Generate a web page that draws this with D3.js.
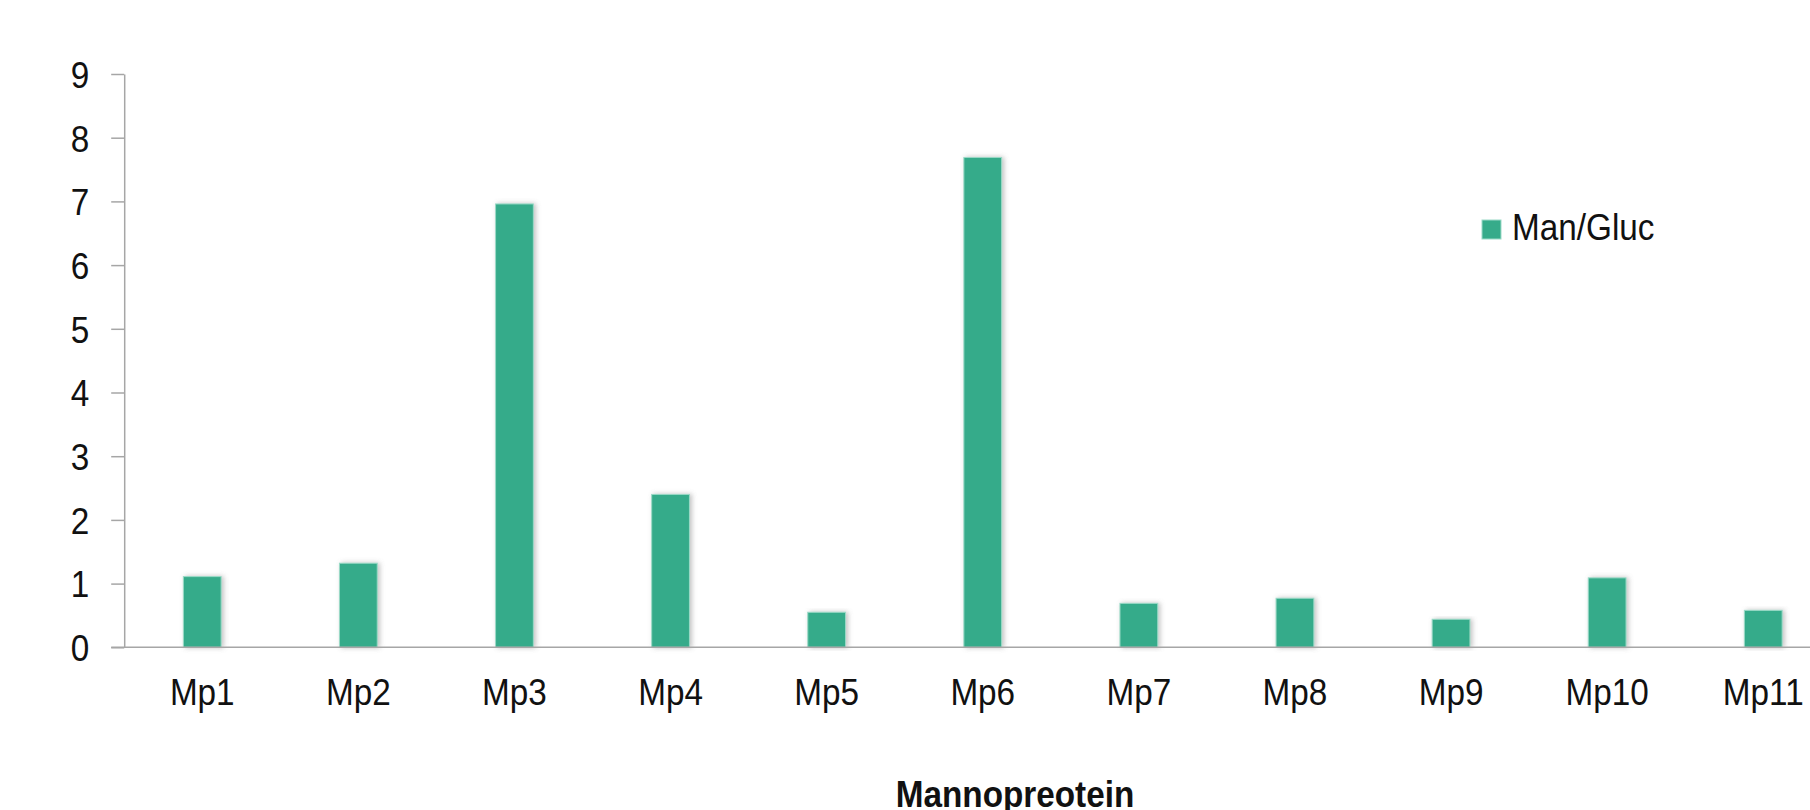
<!DOCTYPE html>
<html lang="en">
    <head>
        <meta charset="utf-8">
        <title>Man/Gluc by Mannopreotein</title>
        <script src="https://d3js.org/d3.v7.min.js"></script>
        <style type="text/css">
            body { margin: 0; background: white; }
            svg { display: block; overflow: hidden; }
            text {
                font-family: "Liberation Sans", Arial, sans-serif;
                font-size: 37px;
                fill: #111;
            }
            .title { font-weight: bold; }
        </style>
    </head>
    <body>
        <svg width="1810" height="810"></svg>
        <script type="text/javascript">

            const categories = ["Mp1", "Mp2", "Mp3", "Mp4", "Mp5", "Mp6", "Mp7", "Mp8", "Mp9", "Mp10", "Mp11"];
            const manGluc = [1.11, 1.32, 6.96, 2.40, 0.55, 7.69, 0.69, 0.77, 0.44, 1.09, 0.58];
            const yTicks = [0, 1, 2, 3, 4, 5, 6, 7, 8, 9];
            const seriesName = "Man/Gluc";
            const xTitle = "Mannopreotein";

            const svg = d3.select("svg");
            const w = 1810;
            const barColor = "#36ab8a";
            const sx = 0.9; // text is a bit narrow in the original

            // plot area (runs past the right edge, like the original)
            const left = 124.2, step = 156.1;
            const x = d3.scaleBand()
                        .domain(categories)
                        .range([left, left + step * categories.length])
                        .paddingInner(0.758)
                        .paddingOuter(0.379);
            const y = d3.scaleLinear().domain([0, 9]).range([647.3, 74]);

            const defs = svg.append("defs");
            defs.append("filter")
                .attr("id", "shadow")
                .attr("x", "-30%").attr("y", "-10%")
                .attr("width", "160%").attr("height", "120%")
                .append("feDropShadow")
                .attr("dx", 2).attr("dy", 0)
                .attr("stdDeviation", 2.5)
                .attr("flood-color", "#777")
                .attr("flood-opacity", 0.45);

            // bars
            svg.selectAll("rect.bar")
               .data(manGluc)
               .enter()
               .append("rect")
               .attr("class", "bar")
               .attr("x", (d, i) => x(categories[i]))
               .attr("y", d => y(d))
               .attr("width", x.bandwidth())
               .attr("height", d => y(0) - y(d))
               .style("fill", barColor)
               .style("stroke", "#9bdac7")
               .style("stroke-width", 1)
               .attr("filter", "url(#shadow)");

            // y axis
            const yAxis = svg.append("g")
                             .attr("transform", `translate(${left},0)`)
                             .call(d3.axisLeft(y).tickValues(yTicks).tickSize(13).tickSizeOuter(0).tickFormat(d3.format("d")));
            yAxis.select(".domain").attr("stroke", "#a6a6a6").attr("stroke-width", 1.5);
            yAxis.selectAll(".tick line").attr("stroke", "#a6a6a6").attr("stroke-width", 1.5);
            yAxis.selectAll(".tick text")
                 .attr("x", null)
                 .attr("dy", "0.36em")
                 .attr("font-size", null)
                 .attr("font-family", null)
                 .attr("fill", null)
                 .attr("transform", `translate(-35,0) scale(${sx},1)`);

            // x axis
            const xAxis = svg.append("g")
                             .attr("transform", `translate(0,${y(0)})`)
                             .call(d3.axisBottom(x).tickSize(0).tickSizeOuter(0));
            xAxis.select(".domain").remove();
            xAxis.append("line")
                 .attr("x1", left - 13).attr("x2", w)
                 .attr("stroke", "#a6a6a6").attr("stroke-width", 1.5);
            xAxis.selectAll(".tick text")
                 .attr("y", null)
                 .attr("dy", null)
                 .attr("font-size", null)
                 .attr("font-family", null)
                 .attr("fill", null)
                 .attr("transform", `translate(0,58) scale(${sx},1)`);

            // x title
            svg.append("text")
               .attr("class", "title")
               .attr("text-anchor", "middle")
               .attr("transform", `translate(1015,807) scale(${sx},1)`)
               .text(xTitle);

            // legend
            const legend = svg.append("g").attr("transform", "translate(1482,220)");
            legend.append("rect")
                  .attr("width", 19).attr("height", 19)
                  .style("fill", barColor)
                  .style("stroke", "#9bdac7");
            legend.append("text")
                  .attr("transform", `translate(30,20) scale(${sx},1)`)
                  .text(seriesName);

        </script>
    </body>
</html>
